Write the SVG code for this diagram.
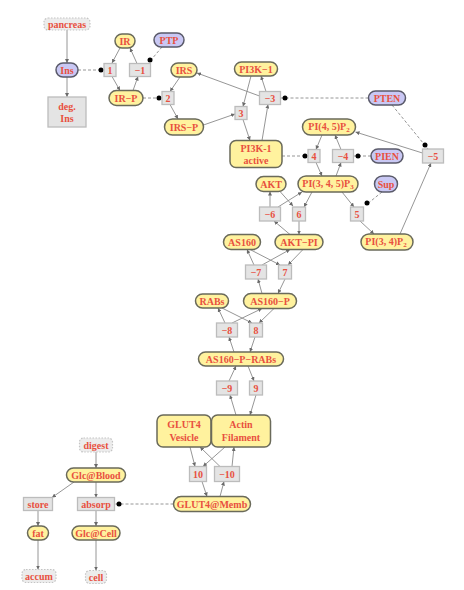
<svg xmlns="http://www.w3.org/2000/svg" width="464" height="590" viewBox="0 0 464 590">
<style>
.sp{fill:#fff29e;stroke:#6a6a5a;stroke-width:1.5}
.bl{fill:#c9c8f4;stroke:#5a5a6a;stroke-width:1.5}
.rx{fill:#e4e4e4;stroke:#bcbcbc;stroke-width:1.3}
.src{fill:#ececec;stroke:#c4c4c4;stroke-width:1.2;stroke-dasharray:1.5 1.5}
text{font-family:"Liberation Serif","DejaVu Serif",serif;font-weight:bold;font-size:10px;fill:#e8503f;text-anchor:middle}
.e{stroke:#8a8a8a;stroke-width:0.9;fill:none;marker-end:url(#ah)}
.d{stroke:#8a8a8a;stroke-width:0.9;fill:none;stroke-dasharray:3 2}
.dot{fill:#000}
</style>
<defs>
<marker id="ah" viewBox="0 0 6 6" refX="6" refY="3" markerWidth="4" markerHeight="4" markerUnits="userSpaceOnUse" orient="auto">
<path d="M0,0 L6,3 L0,6 z" fill="#6a6a6a"/>
</marker>
</defs>

<g id="connectors">
<line class="e" x1="67" y1="30" x2="67" y2="63"/>
<line class="e" x1="67" y1="77" x2="67" y2="97"/>
<line class="d" x1="78" y1="70" x2="104" y2="70"/><circle class="dot" cx="101" cy="70" r="2.5"/>
<line class="e" x1="120" y1="48" x2="112" y2="63"/>
<line class="e" x1="112" y1="76.5" x2="120" y2="90.5"/>
<line class="e" x1="133" y1="90.5" x2="138" y2="76.5"/>
<line class="e" x1="137" y1="63.5" x2="130" y2="48"/>
<line class="d" x1="162" y1="47" x2="151" y2="60"/><circle class="dot" cx="150" cy="60" r="2.5"/>
<line class="d" x1="143" y1="98" x2="162" y2="98"/><circle class="dot" cx="159" cy="98" r="2.5"/>
<line class="e" x1="180" y1="77" x2="170" y2="91.5"/>
<line class="e" x1="170" y1="104.5" x2="178" y2="119"/>
<line class="e" x1="203.5" y1="125" x2="235" y2="114"/>
<line class="e" x1="251" y1="76" x2="243" y2="106.5"/>
<line class="e" x1="243" y1="119.5" x2="250" y2="140.5"/>
<line class="e" x1="262" y1="140.5" x2="268" y2="104.5"/>
<line class="e" x1="266" y1="91.5" x2="261" y2="76"/>
<line class="e" x1="259.5" y1="96" x2="197" y2="73"/>
<line class="d" x1="368.5" y1="98" x2="280.5" y2="98"/><circle class="dot" cx="285" cy="98" r="2.5"/>
<line class="d" x1="392" y1="105" x2="428" y2="149"/><circle class="dot" cx="425" cy="145" r="2.5"/>
<line class="d" x1="282" y1="156" x2="308" y2="156"/><circle class="dot" cx="305" cy="156" r="2.5"/>
<line class="e" x1="322" y1="135" x2="316" y2="149.5"/>
<line class="e" x1="316" y1="162.5" x2="322" y2="176"/>
<line class="e" x1="336" y1="176" x2="341" y2="162.5"/>
<line class="e" x1="341" y1="149.5" x2="335" y2="135"/>
<line class="d" x1="371" y1="156" x2="353.5" y2="156"/><circle class="dot" cx="358" cy="156" r="2.5"/>
<line class="e" x1="422.5" y1="153" x2="355.5" y2="132"/>
<line class="e" x1="400" y1="234" x2="431" y2="163"/>
<line class="e" x1="342" y1="192" x2="354" y2="207"/>
<line class="e" x1="360" y1="221" x2="374" y2="234"/>
<line class="d" x1="382" y1="192" x2="366" y2="205"/><circle class="dot" cx="367" cy="203" r="2.5"/>
<line class="e" x1="270" y1="207" x2="270" y2="191.5"/>
<line class="e" x1="278" y1="207" x2="302" y2="192"/>
<line class="e" x1="280" y1="191.5" x2="293" y2="206"/>
<line class="e" x1="312" y1="192" x2="304" y2="207"/>
<line class="e" x1="299" y1="221" x2="299" y2="234.5"/>
<line class="e" x1="290" y1="234.5" x2="274" y2="221"/>
<line class="e" x1="250" y1="249.5" x2="280" y2="265"/>
<line class="e" x1="303" y1="249.5" x2="288" y2="265"/>
<line class="e" x1="285" y1="279" x2="278" y2="293.5"/>
<line class="e" x1="262" y1="293.5" x2="258" y2="279"/>
<line class="e" x1="254" y1="265" x2="247" y2="249.5"/>
<line class="e" x1="262" y1="265" x2="290" y2="249.5"/>
<line class="e" x1="222" y1="308" x2="252" y2="323"/>
<line class="e" x1="274" y1="308.5" x2="259" y2="323"/>
<line class="e" x1="255" y1="337" x2="250" y2="352"/>
<line class="e" x1="234" y1="352" x2="229" y2="337"/>
<line class="e" x1="225" y1="323" x2="218" y2="308"/>
<line class="e" x1="232" y1="323" x2="262" y2="308.5"/>
<line class="e" x1="248" y1="366" x2="254" y2="381"/>
<line class="e" x1="256" y1="395" x2="250" y2="415"/>
<line class="e" x1="236" y1="415" x2="230" y2="395"/>
<line class="e" x1="229" y1="381" x2="236" y2="366"/>
<line class="e" x1="190" y1="447" x2="195" y2="466.5"/>
<line class="e" x1="225" y1="447" x2="203" y2="466.5"/>
<line class="e" x1="202" y1="481.5" x2="207" y2="496.5"/>
<line class="e" x1="220" y1="496.5" x2="224" y2="481.5"/>
<line class="e" x1="220" y1="466.5" x2="200" y2="447"/>
<line class="e" x1="232" y1="466.5" x2="234" y2="447"/>
<line class="d" x1="173.5" y1="504" x2="114.5" y2="504"/><circle class="dot" cx="119" cy="504" r="2.5"/>
<line class="e" x1="96" y1="452" x2="96" y2="468"/>
<line class="e" x1="74" y1="482" x2="52" y2="497.5"/>
<line class="e" x1="96" y1="482" x2="96" y2="497.5"/>
<line class="e" x1="38" y1="510.5" x2="38" y2="526"/>
<line class="e" x1="38" y1="540" x2="38" y2="569.5"/>
<line class="e" x1="96" y1="510.5" x2="96" y2="526"/>
<line class="e" x1="96" y1="540" x2="96" y2="570.5"/>
</g>

<g id="pancreas"><rect class="src" x="44" y="18" width="46" height="12" rx="4"/><text x="67" y="27.5">pancreas</text></g>
<g id="Ins"><rect class="bl" x="56" y="63" width="22" height="14" rx="7"/><text x="67" y="73.5">Ins</text></g>
<g id="degIns"><rect class="rx" x="48" y="97" width="38" height="30"/><text x="67" y="110">deg.</text><text x="67" y="122">Ins</text></g>
<g id="IR"><rect class="sp" x="115" y="34" width="20" height="14" rx="7"/><text x="125" y="44.5">IR</text></g>
<g id="PTP"><rect class="bl" x="154" y="33" width="30" height="14" rx="7"/><text x="169" y="43.5">PTP</text></g>
<g id="r1"><rect class="rx" x="104" y="63.5" width="12" height="13"/><text x="110" y="73.5">1</text></g>
<g id="rm1"><rect class="rx" x="129.5" y="63.5" width="21" height="13"/><text x="140" y="73.5">−1</text></g>
<g id="IRP"><rect class="sp" x="109" y="90.5" width="34" height="15" rx="7.5"/><text x="126" y="101.5">IR−P</text></g>
<g id="r2"><rect class="rx" x="162" y="91.5" width="12" height="13"/><text x="168" y="101.5">2</text></g>
<g id="IRS"><rect class="sp" x="171" y="63" width="26" height="14" rx="7"/><text x="184" y="73.5">IRS</text></g>
<g id="IRSP"><rect class="sp" x="164.5" y="119" width="39" height="16" rx="8"/><text x="184" y="130.5">IRS−P</text></g>
<g id="PI3K1"><rect class="sp" x="234.5" y="62" width="43" height="14" rx="7"/><text x="256" y="72.5">PI3K−1</text></g>
<g id="rm3"><rect class="rx" x="259.5" y="91.5" width="21" height="13"/><text x="270" y="101.5">−3</text></g>
<g id="r3"><rect class="rx" x="235" y="106.5" width="12" height="13"/><text x="241" y="116.5">3</text></g>
<g id="PTEN"><rect class="bl" x="368.5" y="91" width="37" height="14" rx="7"/><text x="387" y="101.5">PTEN</text></g>
<g id="PI45P2"><rect class="sp" x="302.5" y="119" width="53" height="16" rx="8"/><text x="329" y="130">PI(4, 5)P<tspan font-size="7" dy="2">2</tspan></text></g>
<g id="PI3Ka"><rect class="sp" x="230" y="140.5" width="52" height="27" rx="6"/><text x="256" y="152">PI3K-1</text><text x="256" y="163.5">active</text></g>
<g id="r4"><rect class="rx" x="308" y="149.5" width="12" height="13"/><text x="314" y="159.5">4</text></g>
<g id="rm4"><rect class="rx" x="332.5" y="149.5" width="21" height="13"/><text x="343" y="159.5">−4</text></g>
<g id="PIEN"><rect class="bl" x="371" y="149" width="32" height="14" rx="7"/><text x="387" y="159.5">PIEN</text></g>
<g id="rm5"><rect class="rx" x="422.5" y="149" width="21" height="14"/><text x="433" y="159.5">−5</text></g>
<g id="AKT"><rect class="sp" x="256" y="176.5" width="30" height="15" rx="7.5"/><text x="271" y="187.5">AKT</text></g>
<g id="PI345P3"><rect class="sp" x="298" y="176" width="60" height="16" rx="8"/><text x="328" y="187">PI(3, 4, 5)P<tspan font-size="7" dy="2">3</tspan></text></g>
<g id="Sup"><rect class="bl" x="374.5" y="176" width="23" height="16" rx="8"/><text x="386" y="187.5">Sup</text></g>
<g id="rm6"><rect class="rx" x="259.5" y="207" width="21" height="14"/><text x="270" y="217.5">−6</text></g>
<g id="r6"><rect class="rx" x="292.5" y="207" width="13" height="14"/><text x="299" y="217.5">6</text></g>
<g id="r5"><rect class="rx" x="350.5" y="207" width="13" height="14"/><text x="357" y="217.5">5</text></g>
<g id="AS160"><rect class="sp" x="223.5" y="234.5" width="37" height="15" rx="7.5"/><text x="242" y="245.5">AS160</text></g>
<g id="AKTPI"><rect class="sp" x="275" y="234.5" width="48" height="15" rx="7.5"/><text x="299" y="245.5">AKT−PI</text></g>
<g id="PI34P2"><rect class="sp" x="361" y="234" width="52" height="16" rx="8"/><text x="386" y="245">PI(3, 4)P<tspan font-size="7" dy="2">2</tspan></text></g>
<g id="rm7"><rect class="rx" x="245.5" y="265" width="21" height="14"/><text x="256" y="275.5">−7</text></g>
<g id="r7"><rect class="rx" x="278.5" y="265" width="13" height="14"/><text x="285" y="275.5">7</text></g>
<g id="RABs"><rect class="sp" x="195.5" y="294" width="33" height="14" rx="7"/><text x="212" y="304.5">RABs</text></g>
<g id="AS160P"><rect class="sp" x="243.5" y="293.5" width="53" height="15" rx="7.5"/><text x="270" y="304.5">AS160−P</text></g>
<g id="rm8"><rect class="rx" x="216.5" y="323" width="21" height="14"/><text x="227" y="333.5">−8</text></g>
<g id="r8"><rect class="rx" x="249.5" y="323" width="13" height="14"/><text x="256" y="333.5">8</text></g>
<g id="AS160PRABs"><rect class="sp" x="198.5" y="352" width="85" height="14" rx="7"/><text x="241" y="362.5">AS160−P−RABs</text></g>
<g id="rm9"><rect class="rx" x="216.5" y="381" width="21" height="14"/><text x="227" y="391.5">−9</text></g>
<g id="r9"><rect class="rx" x="249.5" y="381" width="13" height="14"/><text x="256" y="391.5">9</text></g>
<g id="GLUT4V"><rect class="sp" x="157" y="415" width="54" height="32" rx="6"/><text x="184" y="428">GLUT4</text><text x="184" y="441">Vesicle</text></g>
<g id="Actin"><rect class="sp" x="211.5" y="415" width="59" height="32" rx="6"/><text x="241" y="428">Actin</text><text x="241" y="441">Filament</text></g>
<g id="r10"><rect class="rx" x="189.5" y="466.5" width="17" height="15"/><text x="198" y="477.5">10</text></g>
<g id="rm10"><rect class="rx" x="214.5" y="466.5" width="25" height="15"/><text x="227" y="477.5">−10</text></g>
<g id="GLUT4M"><rect class="sp" x="173.5" y="496.5" width="77" height="15" rx="7.5"/><text x="212" y="507.5">GLUT4@Memb</text></g>
<g id="digest"><rect class="src" x="79.5" y="438" width="33" height="14" rx="4"/><text x="96" y="448.5">digest</text></g>
<g id="GlcB"><rect class="sp" x="66.5" y="468" width="59" height="14" rx="7"/><text x="96" y="478.5">Glc@Blood</text></g>
<g id="store"><rect class="rx" x="23.5" y="497.5" width="29" height="13"/><text x="38" y="507.5">store</text></g>
<g id="absorp"><rect class="rx" x="77.5" y="497.5" width="37" height="13"/><text x="96" y="507.5">absorp</text></g>
<g id="fat"><rect class="sp" x="27.5" y="526" width="21" height="14" rx="7"/><text x="38" y="536.5">fat</text></g>
<g id="GlcC"><rect class="sp" x="72" y="526" width="48" height="14" rx="7"/><text x="96" y="536.5">Glc@Cell</text></g>
<g id="accum"><rect class="src" x="22" y="569.5" width="34" height="13" rx="4"/><text x="39" y="579.5">accum</text></g>
<g id="cell"><rect class="src" x="85.5" y="570.5" width="21" height="13" rx="4"/><text x="96" y="580.5">cell</text></g>
</svg>
